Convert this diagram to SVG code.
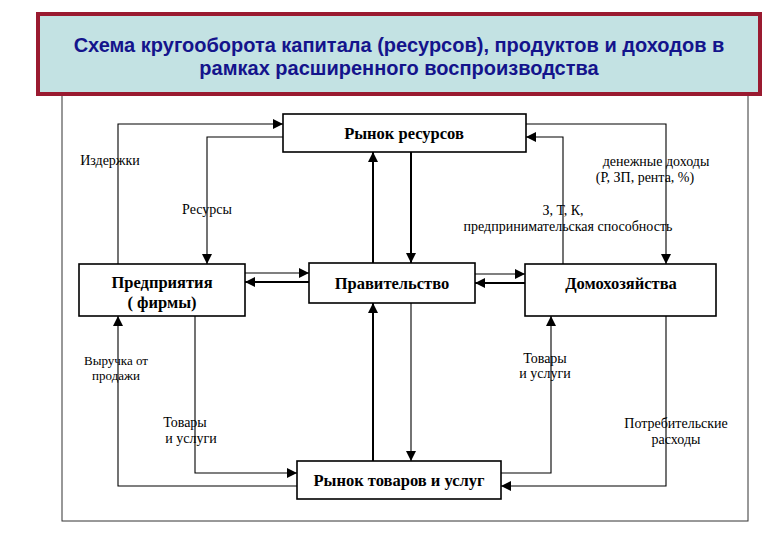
<svg xmlns="http://www.w3.org/2000/svg" width="780" height="540" viewBox="0 0 780 540">
<defs>
<style>
.node rect{fill:#fff;stroke:#000;stroke-width:1.6}
.nt{font-family:"Liberation Serif","Times New Roman","DejaVu Serif",serif;font-weight:bold;font-size:16.5px;fill:#000;text-anchor:middle}
.lb{font-family:"Liberation Serif","Times New Roman","DejaVu Serif",serif;font-size:14px;fill:#000;text-anchor:middle}
.c{fill:none;stroke:#000;stroke-width:1.1}
.t{fill:none;stroke:#000;stroke-width:2}
.title{font-family:"Liberation Sans","Arial",sans-serif;font-weight:bold;font-size:20px;fill:#14148c;text-anchor:middle}
</style>
<marker id="a" viewBox="0 0 10 10" refX="10" refY="5" markerWidth="10" markerHeight="10" markerUnits="userSpaceOnUse" orient="auto">
<path d="M0,0 L10,5 L0,10 Z" fill="#000"/>
</marker>
</defs>
<rect x="0" y="0" width="780" height="540" fill="#fff"/>
<rect id="frame" x="62" y="90" width="686" height="431" fill="#fff" stroke="#333" stroke-width="1"/>
<g id="title">
<rect x="40" y="16" width="722" height="80" fill="#555" opacity="0.5"/>
<rect x="38" y="14" width="722" height="80" fill="#c3e2e3" stroke="#9a1a30" stroke-width="4"/>
<text class="title" x="399" y="52">Схема кругооборота капитала (ресурсов), продуктов и доходов в</text>
<text class="title" x="399" y="75">рамках расширенного воспроизводства</text>
</g>
<g id="connectors">
<path class="c" d="M118,264 V124 H283" marker-end="url(#a)"/>
<path class="c" d="M283,137 H207 V264" marker-end="url(#a)"/>
<path class="t" d="M373,263 V152" marker-end="url(#a)"/>
<path class="t" d="M411,152 V263" marker-end="url(#a)"/>
<path class="c" d="M245,273 H309" marker-end="url(#a)"/>
<path class="t" d="M309,282 H245" marker-end="url(#a)"/>
<path class="c" d="M475,274 H525" marker-end="url(#a)"/>
<path class="t" d="M525,283 H475" marker-end="url(#a)"/>
<path class="c" d="M526,124 H666 V264" marker-end="url(#a)"/>
<path class="c" d="M563,264 V137 H526" marker-end="url(#a)"/>
<path class="c" d="M195,316 V473 H297" marker-end="url(#a)"/>
<path class="c" d="M297,486 H118 V316" marker-end="url(#a)"/>
<path class="t" d="M373,461 V303" marker-end="url(#a)"/>
<path class="c" d="M411,303 V461" marker-end="url(#a)"/>
<path class="c" d="M501,473 H551 V316" marker-end="url(#a)"/>
<path class="c" d="M666,316 V486 H501" marker-end="url(#a)"/>
</g>
<g id="labels">
<text class="lb" x="110" y="165">Издержки</text>
<text class="lb" x="207" y="214">Ресурсы</text>
<text class="lb" x="656" y="166">денежные доходы</text>
<text class="lb" x="645" y="182">(Р, ЗП, рента, %)</text>
<text class="lb" x="563" y="215">З, Т, К,</text>
<text class="lb" x="568" y="231">предпринимательская способность</text>
<text class="lb" x="116" y="365" style="font-size:13px">Выручка от</text>
<text class="lb" x="116" y="380" style="font-size:13px">продажи</text>
<text class="lb" x="185" y="427">Товары</text>
<text class="lb" x="191" y="443">и услуги</text>
<text class="lb" x="545" y="363">Товары</text>
<text class="lb" x="545" y="378">и услуги</text>
<text class="lb" x="676" y="428">Потребительские</text>
<text class="lb" x="676" y="444">расходы</text>
</g>
<g id="n-resources" class="node">
<rect x="283" y="114" width="243" height="38"/>
<text class="nt" x="404" y="139">Рынок ресурсов</text>
</g>
<g id="n-firms" class="node">
<rect x="79" y="264" width="166" height="52"/>
<text class="nt" x="162" y="288">Предприятия</text>
<text class="nt" x="162" y="308">( фирмы)</text>
</g>
<g id="n-gov" class="node">
<rect x="309" y="263" width="166" height="40"/>
<text class="nt" x="392" y="289">Правительство</text>
</g>
<g id="n-house" class="node">
<rect x="525" y="264" width="191" height="52"/>
<text class="nt" x="621" y="289">Домохозяйства</text>
</g>
<g id="n-goods" class="node">
<rect x="297" y="461" width="204" height="38"/>
<text class="nt" x="399" y="486">Рынок товаров и услуг</text>
</g>
</svg>
